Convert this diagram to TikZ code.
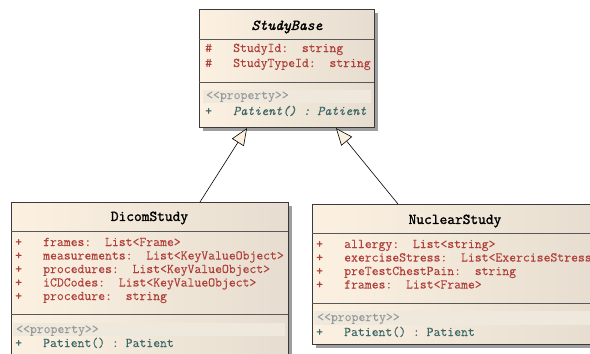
\documentclass[tikz,border=0pt]{standalone}
\usepackage{fontspec}
\newfontfamily\umlmono{Latin Modern Mono}[FakeBold=0.1]
\newfontfamily\umltitle{Latin Modern Mono}[FakeBold=1.6]
\usetikzlibrary{arrows.meta,shadows}

\definecolor{boxL}{HTML}{FCF1E1}
\definecolor{boxR}{HTML}{E6DDD0}
\definecolor{bandfill}{HTML}{EEE8DD}
\definecolor{edge}{HTML}{3A3A3A}
\definecolor{attrred}{HTML}{B0403A}
\definecolor{opteal}{HTML}{3C6A68}
\definecolor{stereo}{HTML}{9A9A9A}

\tikzset{
  classbox/.style={draw=edge, line width=1.1pt, anchor=north west,
    left color=boxL, right color=boxR, inner sep=0pt,
    drop shadow={shadow xshift=3.5pt, shadow yshift=-3.5pt, fill=black!38, opacity=1}},
  sepline/.style={draw=edge!85, line width=0.9pt},
  band/.style={fill=bandfill, draw=none},
  monotext/.style={anchor=west, inner sep=0pt, text height=9pt, text depth=3pt,
    font=\umlmono\fontsize{13.35}{15}\selectfont},
  titletext/.style={inner sep=0pt, font=\umltitle\fontsize{15}{17}\selectfont},
  attr/.style={monotext, text=attrred},
  oper/.style={monotext, text=opteal},
  stereotext/.style={monotext, text=stereo},
  inherit/.style={draw=black, line width=0.6pt,
    -{Triangle[length=17pt, width=14pt, fill=boxL]}},
}

\begin{document}
\begin{tikzpicture}[x=1pt, y=-1pt]
\clip (0,0) rectangle (590,354);
\fill[white] (0,0) rectangle (590,354);

% ---------- StudyBase ----------
\node[classbox, minimum width=175pt, minimum height=118pt] (base) at (199,9) {};
\node[titletext, font=\umltitle\itshape\fontsize{15}{17}\selectfont] (baseT) at (287,27) {StudyBase};
\draw[sepline] (199,39) -- (374,39);
\node[attr] (b1m) at (205,49) {\#};
\node[attr] (b1) at (233,49) {StudyId:~~string};
\node[attr] (b2m) at (205,64) {\#};
\node[attr] (b2) at (233,64) {StudyTypeId:~~string};
\draw[sepline] (199,82) -- (374,82);
\fill[band] (203,90) rectangle (371,103);
\node[stereotext] (bS) at (206,96) {<{}<property>{}>};
\node[oper] (bOm) at (205,112) {+};
\node[oper, font=\umlmono\itshape\fontsize{13.35}{15}\selectfont] (bO) at (233,112) {Patient()~:~Patient};

% ---------- DicomStudy ----------
\node[classbox, minimum width=277pt, minimum height=190pt] (dicom) at (11,202) {};
\node[titletext] (dicomT) at (149.5,218) {DicomStudy};
\draw[sepline] (11,231) -- (288,231);
\node[attr] (d1m) at (15,243) {+};
\node[attr] (d1) at (43,243) {frames:~~List<Frame>};
\node[attr] (d2m) at (15,256.5) {+};
\node[attr] (d2) at (43,256.5) {measurements:~~List<KeyValueObject>};
\node[attr] (d3m) at (15,270) {+};
\node[attr] (d3) at (43,270) {procedures:~~List<KeyValueObject>};
\node[attr] (d4m) at (15,283.5) {+};
\node[attr] (d4) at (43,283.5) {iCDCodes:~~List<KeyValueObject>};
\node[attr] (d5m) at (15,297) {+};
\node[attr] (d5) at (43,297) {procedure:~~string};
\draw[sepline] (11,314) -- (288,314);
\fill[band] (13,323) rectangle (285,336);
\node[stereotext] (dS) at (16,330) {<{}<property>{}>};
\node[oper] (dOm) at (15,344) {+};
\node[oper] (dO) at (43,344) {Patient()~:~Patient};

% ---------- NuclearStudy ----------
\node[classbox, minimum width=286pt, minimum height=140pt] (nuc) at (312,204) {};
\node[titletext] (nucT) at (455,221) {NuclearStudy};
\draw[sepline] (312,233) -- (598,233);
\node[attr] (n1m) at (316,245) {+};
\node[attr] (n1) at (344,245) {allergy:~~List<string>};
\node[attr] (n2m) at (316,258.5) {+};
\node[attr] (n2) at (344,258.5) {exerciseStress:~~List<ExerciseStress>};
\node[attr] (n3m) at (316,272) {+};
\node[attr] (n3) at (344,272) {preTestChestPain:~~string};
\node[attr] (n4m) at (316,285.5) {+};
\node[attr] (n4) at (344,285.5) {frames:~~List<Frame>};
\draw[sepline] (312,303) -- (598,303);
\fill[band] (314,311) rectangle (596,325);
\node[stereotext] (nS) at (317,318) {<{}<property>{}>};
\node[oper] (nOm) at (316,333) {+};
\node[oper] (nO) at (344,333) {Patient()~:~Patient};

% ---------- generalisations ----------
\draw[inherit] ([xshift=189pt]dicom.north west) -- ([xshift=48pt]base.south west);
\draw[inherit] ([xshift=86pt]nuc.north west) -- ([xshift=137pt]base.south west);
\end{tikzpicture}
\end{document}
